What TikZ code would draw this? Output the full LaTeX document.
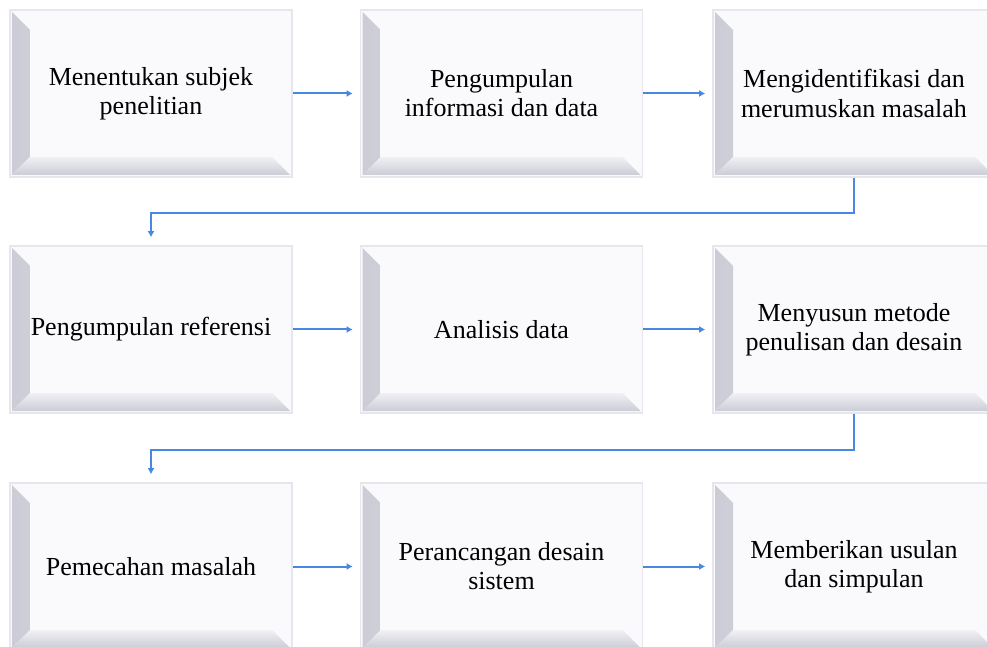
\documentclass[tikz,border=0pt]{standalone}
\usepackage{fontspec}
\setmainfont{Liberation Serif}
\usepackage{tikz}
\usepackage{xcolor}
\usetikzlibrary{positioning,shapes,arrows.meta}

\definecolor{flowblue}{RGB}{72,136,226}
\definecolor{framegray}{RGB}{230,230,236}
\definecolor{facewhite}{RGB}{250,250,252}
\definecolor{bevdark}{RGB}{204,204,214}
\definecolor{bevmid}{RGB}{240,240,245}

\tikzset{
  bevel/.style={rectangle, draw=framegray, line width=0.8pt, fill=facewhite,
    minimum width=141pt, minimum height=83.5pt, inner sep=0pt, align=center,
    font=\fontsize{13}{14.6}\selectfont,
    path picture={
      \shade[left color=bevdark, right color=bevmid] ([shift={(1pt,-1pt)}]path picture bounding box.north west) -- ([shift={(10pt,-10pt)}]path picture bounding box.north west)
        -- ([shift={(10pt,10pt)}]path picture bounding box.south west) -- ([shift={(1pt,1pt)}]path picture bounding box.south west) -- cycle;
      \shade[top color=bevmid, bottom color=bevdark] ([shift={(1pt,1pt)}]path picture bounding box.south west) -- ([shift={(10pt,10pt)}]path picture bounding box.south west)
        -- ([shift={(-10pt,10pt)}]path picture bounding box.south east) -- ([shift={(-1pt,1pt)}]path picture bounding box.south east) -- cycle;
    }},
  flow/.style={draw=flowblue, line width=1pt, -{Latex[length=3pt,width=3.5pt]}}
}

\begin{document}
\begin{tikzpicture}[x=0.5pt,y=-0.5pt]
\clip (0,0) rectangle (987,647);
\fill [white] (0,0) rectangle (987,647);
\node [bevel] (1a) at (151,93.5) {Menentukan subjek\\penelitian};
\node [bevel] (1b) at (501.5,93.5) {Pengumpulan\\informasi dan data};
\node [bevel] (1c) at (854,93.5) {Mengidentifikasi dan\\merumuskan masalah};
\node [bevel] (2a) at (151,329.5) {Pengumpulan referensi};
\node [bevel] (2b) at (501.5,329.5) {Analisis data};
\node [bevel] (2c) at (854,329.5) {Menyusun metode\\penulisan dan desain};
\node [bevel] (3a) at (151,566.5) {Pemecahan masalah};
\node [bevel] (3b) at (501.5,566.5) {Perancangan desain\\sistem};
\node [bevel] (3c) at (854,566.5) {Memberikan usulan\\dan simpulan};
\draw [flow, shorten >=3.5pt] (1a.east) -- (1b.west);
\draw [flow, shorten >=3.5pt] (1b.east) -- (1c.west);
\draw [flow, shorten >=4pt] (1c.south) -- ++(0,35) -| (2a.north);
\draw [flow, shorten >=3.5pt] (2a.east) -- (2b.west);
\draw [flow, shorten >=3.5pt] (2b.east) -- (2c.west);
\draw [flow, shorten >=4pt] (2c.south) -- ++(0,36) -| (3a.north);
\draw [flow, shorten >=3.5pt] (3a.east) -- (3b.west);
\draw [flow, shorten >=3.5pt] (3b.east) -- (3c.west);
\end{tikzpicture}
\end{document}
